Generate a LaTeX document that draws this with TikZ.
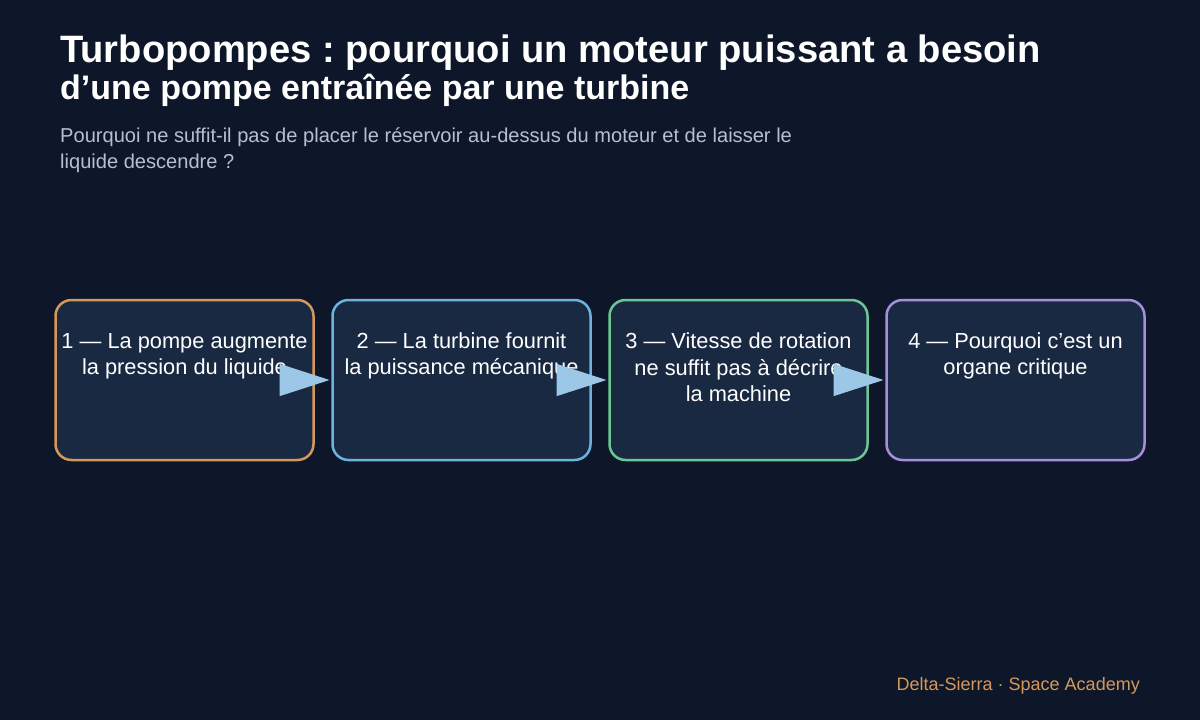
\documentclass[tikz,border=0pt]{standalone}
\usepackage{fontspec}
\setmainfont{Liberation Sans}
\usepackage{xcolor}
\usetikzlibrary{positioning, arrows.meta}
\definecolor{bgdark}{HTML}{0E1729}
\definecolor{boxfill}{HTML}{1A2942}
\definecolor{pumporange}{HTML}{D4985A}
\definecolor{turbblue}{HTML}{6DB3DE}
\definecolor{speedgreen}{HTML}{6DC795}
\definecolor{critpurple}{HTML}{A88DDD}
\definecolor{arrowblue}{HTML}{9CC7E6}
\definecolor{subgrey}{HTML}{B4C0D2}
\frenchspacing

\begin{document}
\begin{tikzpicture}[x=1pt,y=-1pt,
    stage/.style={draw, line width=2.5pt, rounded corners=16pt, fill=boxfill, minimum width=258pt, minimum height=160pt, inner sep=0pt, outer sep=0pt},
    stagetext/.style={text=white, align=center, inner sep=0pt, font=\fontsize{21.8}{26.5}\selectfont},
    flow/.style={draw=arrowblue, fill=arrowblue, line width=1.5pt, -{Triangle[length=50pt,width=32pt]}, shorten >=3pt}]
            \fill[bgdark] (0,0) rectangle (1200,720);
            \node[anchor=base west, text=white, inner sep=0pt, font=\fontsize{38.15}{44}\selectfont\bfseries] (title) at (60,62) {Turbopompes : pourquoi un moteur puissant a besoin};
            \node[anchor=base west, text=white, inner sep=0pt, font=\fontsize{34}{40}\selectfont\bfseries] (title2) at (60,99) {d’une pompe entraînée par une turbine};
            \node[anchor=north west, text=subgrey, align=left, inner sep=0pt, font=\fontsize{20.08}{26}\selectfont] (subtitle) at (60,127.6) {Pourquoi ne suffit-il pas de placer le réservoir au-dessus du moteur et de laisser le\\liquide descendre ?};
            \node[stage, draw=pumporange] (pump) at (184.5,380) {};
            \node[stage, draw=turbblue, right=19pt of pump] (turbine) {};
            \node[stage, draw=speedgreen, right=19pt of turbine] (speed) {};
            \node[stage, draw=critpurple, right=19pt of speed] (critical) {};
            \node[stagetext, below=33pt of pump.north] (pumptext) {1 — La pompe augmente\\la pression du liquide};
            \node[stagetext, below=32.5pt of turbine.north] (turbinetext) {2 — La turbine fournit\\la puissance mécanique};
            \node[stagetext, below=32.5pt of speed.north] (speedtext) {3 — Vitesse de rotation\\ne suffit pas à décrire\\la machine};
            \node[stagetext, below=32.5pt of critical.north] (criticaltext) {4 — Pourquoi c’est un\\organe critique};
            \draw[flow] (pump.east) -- (turbine.west);
            \draw[flow] (turbine.east) -- (speed.west);
            \draw[flow] (speed.east) -- (critical.west);
            \node[anchor=base east, text=pumporange, inner sep=0pt, font=\fontsize{18}{22}\selectfont] (footer) at (1140,690) {Delta-Sierra · Space Academy};
\end{tikzpicture}
\end{document}
